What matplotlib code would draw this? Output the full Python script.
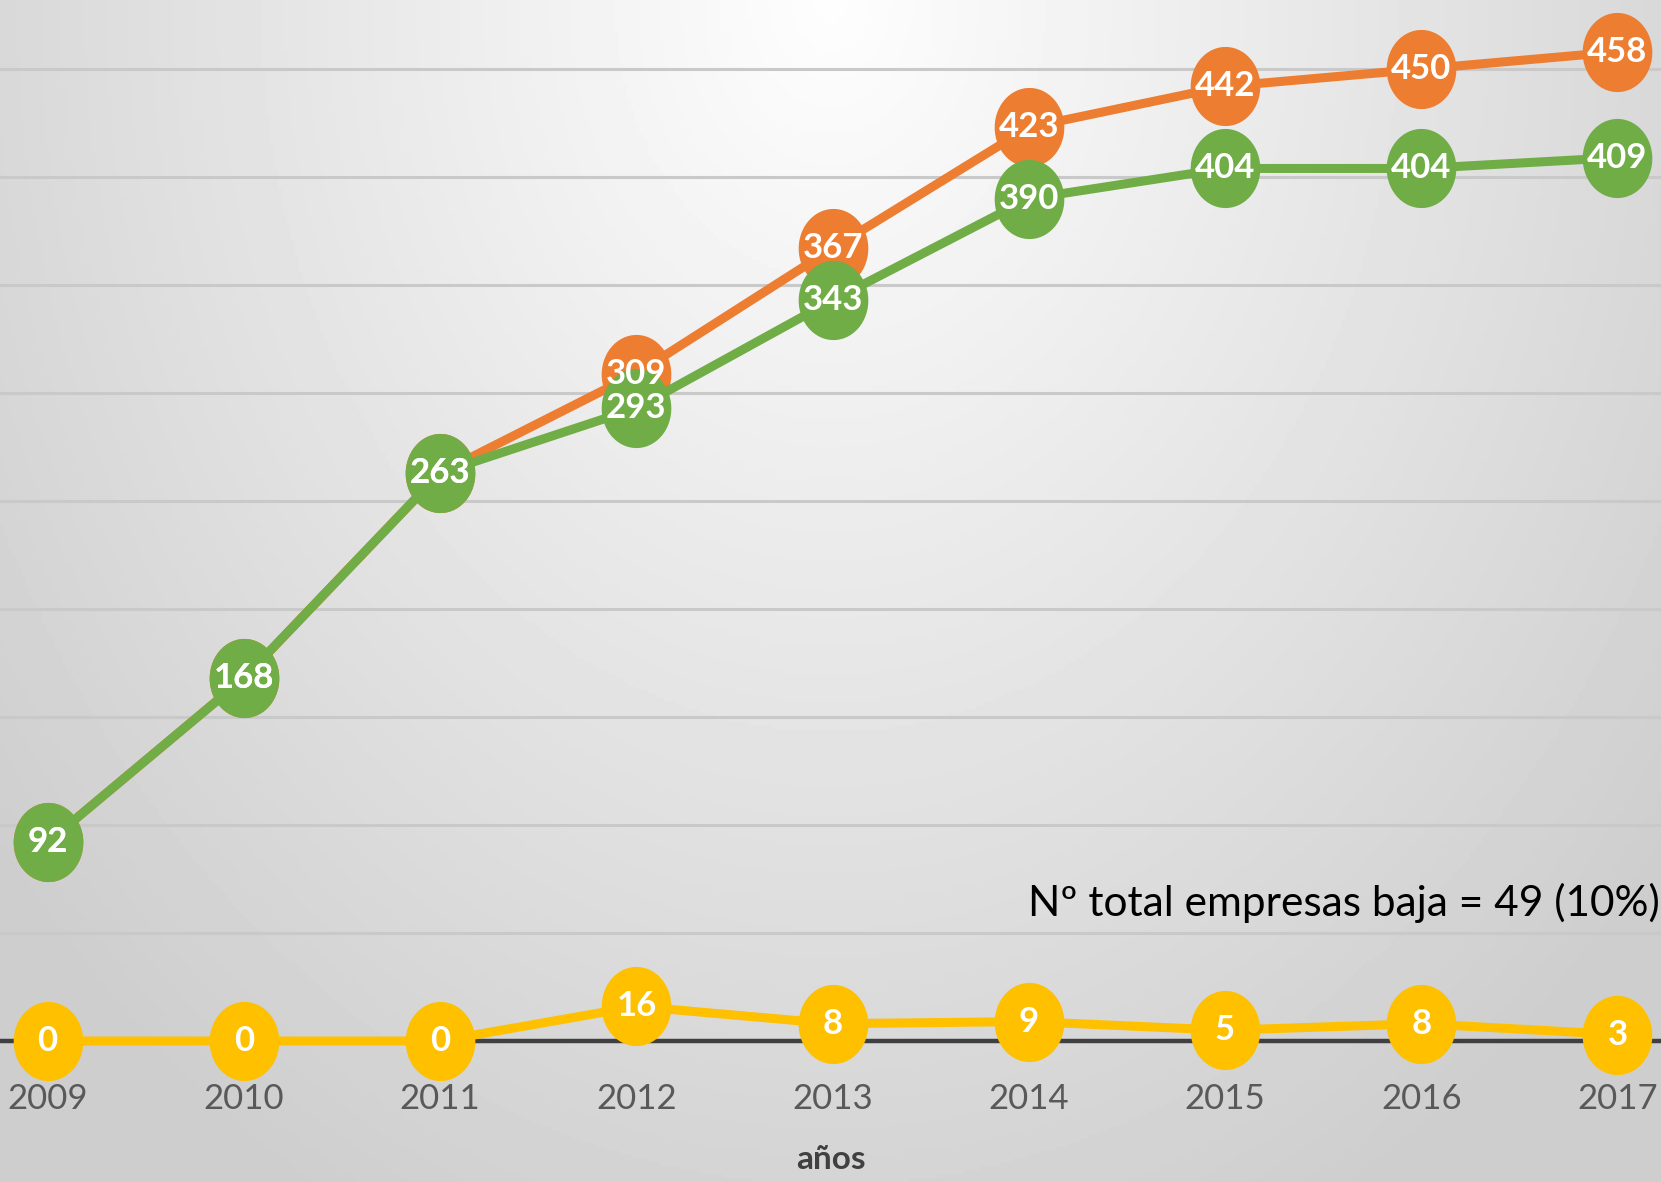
import numpy as np
import matplotlib
matplotlib.use("Agg")
import matplotlib.pyplot as plt
from matplotlib.path import Path

years = [2009, 2010, 2011, 2012, 2013, 2014, 2015, 2016, 2017]
altas = [92, 168, 263, 309, 367, 423, 442, 450, 458]      # naranja
activas = [92, 168, 263, 293, 343, 390, 404, 404, 409]    # verde
bajas = [0, 0, 0, 16, 8, 9, 5, 8, 3]                      # amarillo
grid_vals = [50, 100, 150, 200, 250, 300, 350, 400, 450]
nota = "Nº total empresas baja = 49 (10%)"

plt.rcParams['font.family'] = ['Lato', 'DejaVu Sans']

# marcador eliptico (el grafico original esta estirado en vertical)
t = np.linspace(0, 2 * np.pi, 60)
ellipse = Path(np.column_stack([0.88 * np.cos(t), np.sin(t)]), closed=True)

fig = plt.figure(figsize=(16.61, 11.82), dpi=100)

# fondo con degradado radial
bg = fig.add_axes([0, 0, 1, 1], zorder=-10)
gx, gy = np.meshgrid(np.linspace(-1, 1, 400), np.linspace(0, 1, 300))
r = np.sqrt(gx ** 2 + (gy / 0.9) ** 2)
shade = 0.995 - 0.19 * np.clip(r, 0, 1.3) / 1.3
bg.imshow(shade, cmap='gray', vmin=0, vmax=1, aspect='auto',
          extent=[0, 1, 1, 0])
bg.axis('off')

y0 = 1 - 1041 / 1182
ax = fig.add_axes([0, y0, 1, 1 - y0])
ax.patch.set_alpha(0)
ax.set_xlim(2008.757, 2017.222)
ax.set_ylim(0, 482)

for g in grid_vals:
    ax.axhline(g, color='#c9c9c9', lw=2.2, zorder=1)
ax.axhline(0, color='#404040', lw=3.2, zorder=1, clip_on=False)

series = [(altas, '#ED7D31'), (activas, '#70AD47'), (bajas, '#FFC000')]
for vals, col in series:
    ax.plot(years, vals, color=col, lw=6.5, marker=ellipse, markersize=57,
            markerfacecolor=col, markeredgecolor=col, markeredgewidth=0,
            zorder=3, clip_on=False)

for vals, col in series:
    for x, v in zip(years, vals):
        ax.text(x, v, str(v), color='white', fontsize=25, fontweight='bold',
                ha='center', va='center', zorder=5, clip_on=False)

ax.set_xticks(years)
ax.set_xticklabels([str(y) for y in years], fontsize=25, color='#595959')
ax.tick_params(axis='x', length=0, pad=30)
ax.set_yticks([])
for s in ax.spines.values():
    s.set_visible(False)
ax.set_xlabel('años', fontsize=24, fontweight='bold', color='#404040',
              labelpad=22)

ax.text(2017.215, 64, nota, fontsize=30.5, color='black', ha='right',
        va='center', zorder=6)

fig.savefig('out.png', dpi=100)
